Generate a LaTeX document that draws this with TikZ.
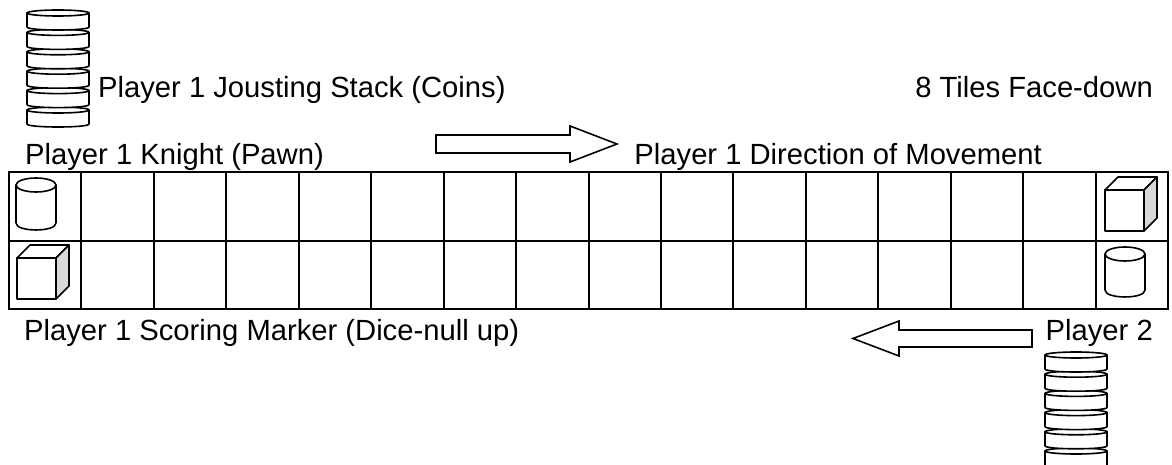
\documentclass[tikz,border=0pt]{standalone}
\usepackage{fontspec}
\setmainfont{Liberation Sans}
\usetikzlibrary{positioning}

% one coin of a jousting stack, (x,y) = centre of its top face
\newcommand{\drawcoin}[2]{%
  \draw[piece] (#1-31,#2) -- (#1-31,#2+14) .. controls (#1-31,#2+18) and (#1+31,#2+18) .. (#1+31,#2+14) -- (#1+31,#2) -- cycle;
  \draw[piece] (#1,#2) ellipse [x radius=31, y radius=3];}
% knight pawn, (x,y) = centre of top face, then height
\newcommand{\drawpawn}[3]{%
  \draw[piece] (#1-20,#2) -- (#1-20,#2+#3) .. controls (#1-20,#2+#3+9.3) and (#1+20,#2+#3+9.3) .. (#1+20,#2+#3) -- (#1+20,#2) -- cycle;
  \draw[piece] (#1,#2) ellipse [x radius=20, y radius=7];}
% scoring die, (x,y) = top left of front face
\newcommand{\drawdie}[2]{%
  \draw[piece] (#1,#2) rectangle ++(39,41);
  \draw[piece] (#1,#2) -- ++(13,-13) -- ++(39,0) -- (#1+39,#2) -- cycle;
  \draw[piece,fill=gray!30] (#1+39,#2) -- ++(13,-13) -- ++(0,41) -- (#1+39,#2+41) -- cycle;}

\begin{document}
\begin{tikzpicture}[x=1pt,y=-1pt,
    lbl/.style={inner sep=0pt,font=\fontsize{29.2}{34}\selectfont},
    board/.style={line width=2pt},
    piece/.style={line width=1.6pt,fill=white,line join=round},
    blockarrow/.style={line width=1.6pt,fill=white}]
  \useasboundingbox (0,0) rectangle (1172,465);

  % labels
  \node[lbl, anchor=base west] (stack1) at (98,98)   {Player 1 Jousting Stack (Coins)};
  \node[lbl, anchor=base east] (tiles)  at (1153,98) {8 Tiles Face-down};
  \node[lbl, anchor=base west] (knight) at (25,165)  {Player 1 Knight (Pawn)};
  \node[lbl, anchor=base east] (dir)    at (1042,165) {Player 1 Direction of Movement};
  \node[lbl, anchor=base west] (score)  at (24,340)  {Player 1 Scoring Marker (Dice-null up)};
  \node[lbl, anchor=base east] (p2)     at (1153,340) {Player 2};

  % the track
  \draw[board] (9,172) rectangle (1168,309);
  \draw[board] (9,241) -- (1168,241);
  \foreach \i in {1,...,15}
    \draw[board] (9+\i*72.44,172) -- (9+\i*72.44,309);

  % pieces
  \drawpawn{36}{185}{38}
  \drawdie{17}{258}
  \drawdie{1105}{190}
  \drawpawn{1125}{254}{36}

  % direction arrows
  \draw[blockarrow] (436,135) -- (570,135) -- (570,126) -- (617,144) -- (570,162) -- (570,153) -- (436,153) -- cycle;
  \draw[blockarrow] (1032,330) -- (899,330) -- (899,321) -- (853,338.5) -- (899,356) -- (899,347) -- (1032,347) -- cycle;

  % jousting stacks
  \foreach \k in {5,...,0}{\drawcoin{58}{13+19.4*\k}}
  \begin{scope}
    \clip (0,0) rectangle (1172,465);
    \foreach \k in {5,...,0}{\drawcoin{1076}{355+19.2*\k}}
  \end{scope}
\end{tikzpicture}
\end{document}
